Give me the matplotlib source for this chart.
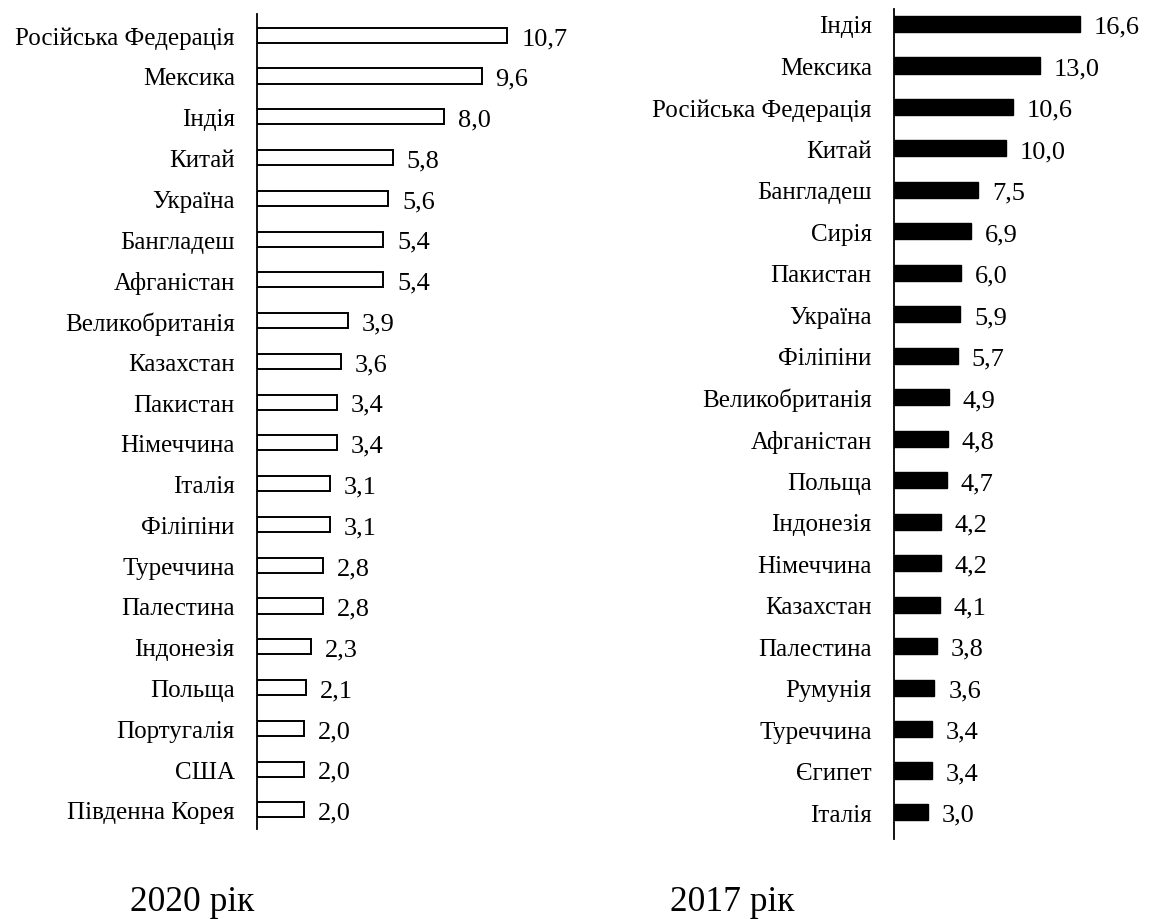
import matplotlib
matplotlib.use("Agg")
import matplotlib.pyplot as plt
from matplotlib.transforms import ScaledTranslation

plt.rcParams['font.family'] = ['Liberation Serif', 'DejaVu Serif']

countries_2020 = ["Російська Федерація", "Мексика", "Індія", "Китай", "Україна",
                  "Бангладеш", "Афганістан", "Великобританія", "Казахстан", "Пакистан",
                  "Німеччина", "Італія", "Філіпіни", "Туреччина", "Палестина",
                  "Індонезія", "Польща", "Португалія", "США", "Південна Корея"]
values_2020 = [10.7, 9.6, 8.0, 5.8, 5.6, 5.4, 5.4, 3.9, 3.6, 3.4,
               3.4, 3.1, 3.1, 2.8, 2.8, 2.3, 2.1, 2.0, 2.0, 2.0]

countries_2017 = ["Індія", "Мексика", "Російська Федерація", "Китай", "Бангладеш",
                  "Сирія", "Пакистан", "Україна", "Філіпіни", "Великобританія",
                  "Афганістан", "Польща", "Індонезія", "Німеччина", "Казахстан",
                  "Палестина", "Румунія", "Туреччина", "Єгипет", "Італія"]
values_2017 = [16.6, 13.0, 10.6, 10.0, 7.5, 6.9, 6.0, 5.9, 5.7, 4.9,
               4.8, 4.7, 4.2, 4.2, 4.1, 3.8, 3.6, 3.4, 3.4, 3.0]

W, H = 1151, 920
fig = plt.figure(figsize=(W / 100, H / 100), dpi=100)
shift_down = ScaledTranslation(0, -2 / 100, fig.dpi_scale_trans)


def panel(rect, names, vals, xmax, ylim, height, fill, lw):
    ax = fig.add_axes(rect)
    ypos = list(range(len(names)))
    ax.barh(ypos, vals, height=height, color=fill, edgecolor='black', linewidth=lw)
    for y, v in zip(ypos, vals):
        ax.annotate(f"{v:.1f}".replace('.', ','), (v, y), xytext=(10, -2),
                    textcoords='offset points', va='center', ha='left', fontsize=19)
    ax.set_yticks(ypos)
    ax.set_yticklabels(names, fontsize=18)
    for lab in ax.get_yticklabels():
        lab.set_transform(lab.get_transform() + shift_down)
    ax.tick_params(axis='y', length=0, pad=16)
    ax.set_xticks([])
    ax.set_xlim(0, xmax)
    ax.set_ylim(*ylim)
    for s in ['top', 'right', 'bottom']:
        ax.spines[s].set_visible(False)
    ax.spines['left'].set_linewidth(1.3)
    return ax


# left panel: axis x=257..600 px, y=15..830 px
panel([257 / W, 1 - 830 / H, 343 / W, 815 / H], countries_2020, values_2020,
      343 / 23.4, (19.47, -0.52), 0.37, 'white', 1.4)
# right panel: axis x=894..1140 px, y=10..840 px
panel([894 / W, 1 - 840 / H, 246 / W, 830 / H], countries_2017, values_2017,
      246 / 11.2, (19.65, -0.36), 0.39, 'black', 1.0)

fig.text(192 / W, 1 - 911 / H, "2020 рік", ha='center', va='baseline', fontsize=25.5)
fig.text(732 / W, 1 - 911 / H, "2017 рік", ha='center', va='baseline', fontsize=25.5)

fig.savefig("out.png", dpi=100)
